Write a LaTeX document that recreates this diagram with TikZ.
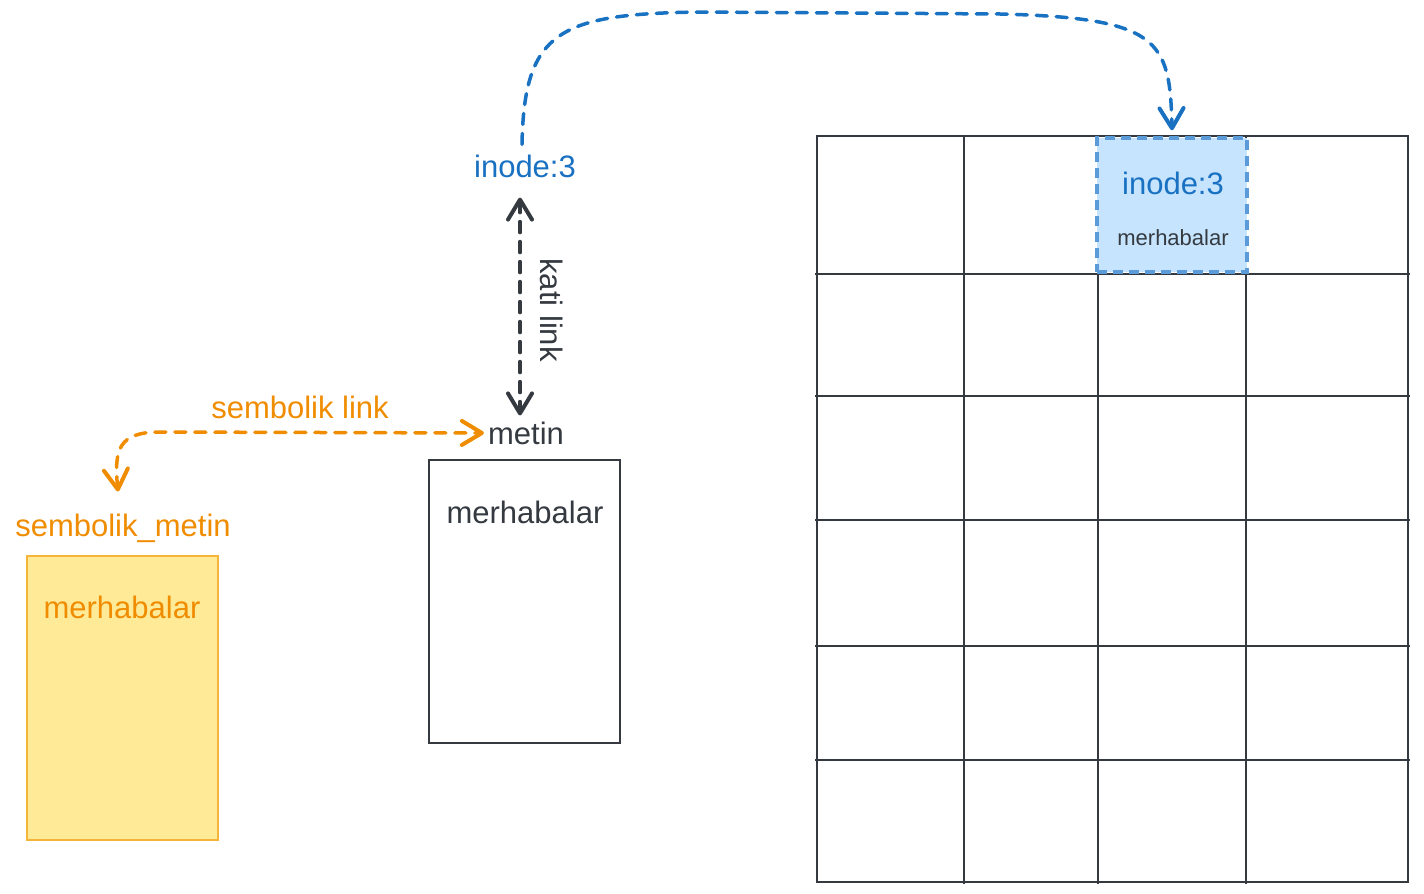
\documentclass[tikz,border=0pt]{standalone}
\usepackage{fontspec}
\setmainfont{Liberation Sans}
\usetikzlibrary{arrows.meta}
\definecolor{ink}{HTML}{343A40}
\definecolor{bluetxt}{HTML}{1971C2}
\definecolor{bluebd}{HTML}{5A9BD8}
\definecolor{bluefill}{HTML}{C7E4FF}
\definecolor{orangetxt}{HTML}{F08C00}
\definecolor{yellowfill}{HTML}{FFEA97}
\definecolor{yellowbd}{HTML}{F5B53A}
\tikzset{
  lbl/.style={inner sep=0pt, font=\fontsize{31}{36}\selectfont},
  gridline/.style={draw=ink, line width=2.6pt},
  vtip/.tip={Straight Barb[length=20pt,width=24pt,line width=4pt,line cap=round,line join=round]},
  link/.style={line width=3.5pt, dash pattern=on 11pt off 9pt, line cap=round},
}
\begin{document}
\begin{tikzpicture}[x=1pt,y=-1pt]
\useasboundingbox (0,0) rectangle (1424,894);
% grid
\foreach \yy in {274,396,520,646,760} \draw[gridline] (815,\yy) -- (1410,\yy);
\foreach \xx in {964,1098,1246} \draw[gridline] (\xx,136) -- (\xx,884);
\draw[gridline] (817,136) rectangle (1408,882);
% highlighted cell
\node[draw=bluebd, fill=bluefill, line width=3.5pt, dash pattern=on 10pt off 6pt,
      minimum width=150pt, minimum height=134pt, inner sep=0pt] (cell) at (1172,205) {};
\node[lbl, text=bluetxt] (cellinode) at (1173,183) {inode:3};
\node[lbl, text=ink, font=\fontsize{22}{26}\selectfont] (celltext) at (1173,238) {merhabalar};
% white file box
\node[draw=ink, line width=1.6pt, minimum width=191pt, minimum height=283pt, inner sep=0pt] (filebox) at (524.5,601.5) {};
\node[lbl, text=ink] (filetext) at (525,512) {merhabalar};
% yellow symlink box
\node[draw=yellowbd, fill=yellowfill, line width=1.6pt, minimum width=191pt, minimum height=284pt, inner sep=0pt] (symbox) at (122.5,698) {};
\node[lbl, text=orangetxt] (symtext) at (122,607) {merhabalar};
% labels
\node[lbl, text=bluetxt] (inode) at (525,166) {inode:3};
\node[lbl, text=ink] (metin) at (526,433) {metin};
\node[lbl, text=orangetxt] (symname) at (123,528) {sembolik\_metin};
\node[lbl, text=orangetxt] (symlinklbl) at (300,407) {sembolik link};
\node[lbl, text=ink, rotate=-90] (hardlbl) at (552,310) {kati link};
% connectors
\draw[link, draw=bluetxt, -vtip]
  ([yshift=10pt]inode.north -| 522,0) .. controls (524,30) and (560,14) .. (700,12)
  -- (1000,14) .. controls (1160,18) and (1170,40) .. ([yshift=6pt]cell.north);
\draw[link, draw=ink, vtip-vtip]
  ([yshift=-20pt]inode.south -| 520,0) -- ([yshift=6pt]metin.north -| 520,0);
\draw[link, draw=orangetxt, vtip-vtip]
  ([yshift=22pt]symname.north -| 118,0) .. controls (114,450) and (118,432) .. (160,432)
  -- ([xshift=-4pt]metin.west);
\end{tikzpicture}
\end{document}
